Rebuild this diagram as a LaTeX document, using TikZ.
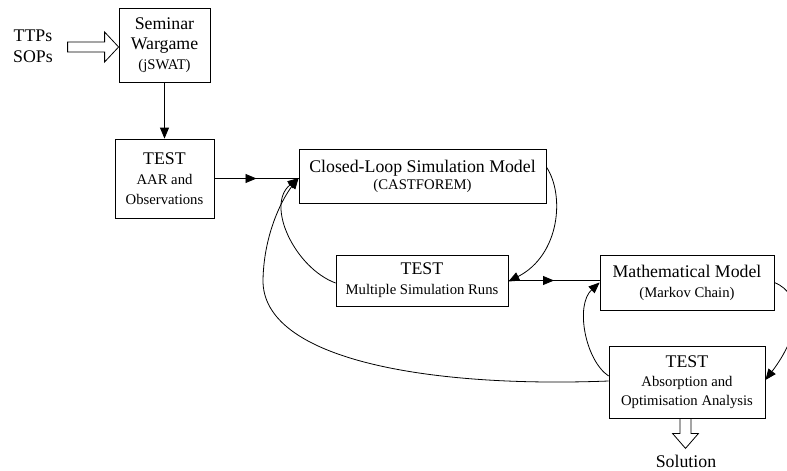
\documentclass[tikz,border=0pt]{standalone}
\usepackage{fontspec}
\setmainfont{Liberation Serif}
\usetikzlibrary{arrows.meta,decorations.markings}

\newcommand{\sml}{\fontsize{14.7}{18.5}\selectfont}

\tikzset{
  box/.style={draw, align=center, inner sep=0pt},
  midarrow/.style={decoration={markings,
      mark=at position 0.5 with {\arrow{Triangle[length=11pt,width=9pt]}}},
    postaction={decorate}},
}

\begin{document}
\begin{tikzpicture}[x=1pt,y=-1pt,line width=0.8pt,>={Triangle[length=11pt,width=9pt]},
    font=\fontsize{17.8}{20}\selectfont]
  \useasboundingbox (0,0) rectangle (787,471);
  % boxes
  \node[box,minimum width=91pt,minimum height=74pt] (sw) at (164.5,45.5)
    {Seminar\\ Wargame\\ {\sml (jSWAT)}};
  \node[box,minimum width=99pt,minimum height=79pt] (aar) at (164.5,178.5)
    {TEST\\ {\sml AAR and}\\ {\sml Observations}};
  \node[box,minimum width=247pt,minimum height=54pt] (cl) at (422.5,176)
    {Closed-Loop Simulation Model\\[-3pt] {\sml (CASTFOREM)}};
  \node[box,minimum width=172pt,minimum height=51pt] (msr) at (422,280.5)
    {TEST\\ {\sml Multiple Simulation Runs}};
  \node[box,minimum width=174pt,minimum height=55pt] (mm) at (687,282.5)
    {Mathematical Model\\ {\sml (Markov Chain)}};
  \node[box,minimum width=156pt,minimum height=72pt] (abs) at (687,382)
    {TEST\\[-1pt] {\sml Absorption and}\\[-1pt] {\sml Optimisation Analysis}};
  \node[align=center] (in) at (33,46) {TTPs\\[1pt] SOPs};
  \node (sol) at (686,461) {Solution};

  % inputs and output
  \draw ([yshift=-1.5pt]sw.west) -- ++(-14,-15) -- ++(0,10) -- ++(-37,0)
    -- ++(0,10) -- ++(37,0) -- ++(0,10) -- cycle;
  \draw ([xshift=-7pt]abs.south) -- ++(0,15) -- ++(-7.5,0) -- ++(13,15)
    -- ++(13,-15) -- ++(-7.5,0) -- ++(0,-15);

  % flow
  \draw[->] (sw) -- (aar);
  \draw[midarrow] (aar.east) -- (aar.east -| cl.west);
  \draw[midarrow] (msr.east) -- (msr.east -| mm.west);
  \draw[->] ([yshift=9pt]cl.east) .. controls (565,195) and (560,255) .. ([yshift=-1pt]msr.east);
  \draw[->] ([yshift=-2.5pt]msr.west) .. controls (295,268) and (265,205) .. ([yshift=-2pt]cl.west);
  \draw[->] ([yshift=1pt]abs.west) .. controls (430,388) and (262,360) .. (263,280)
    .. controls (264,230) and (285,195) .. ([yshift=-2pt]cl.west);
  \draw[->] (mm.east) .. controls (805,295) and (800,335) .. ([yshift=2pt]abs.east);
  \draw[->] ([yshift=6pt]abs.west) .. controls (585,360) and (575,305) .. (mm.west);
\end{tikzpicture}
\end{document}
